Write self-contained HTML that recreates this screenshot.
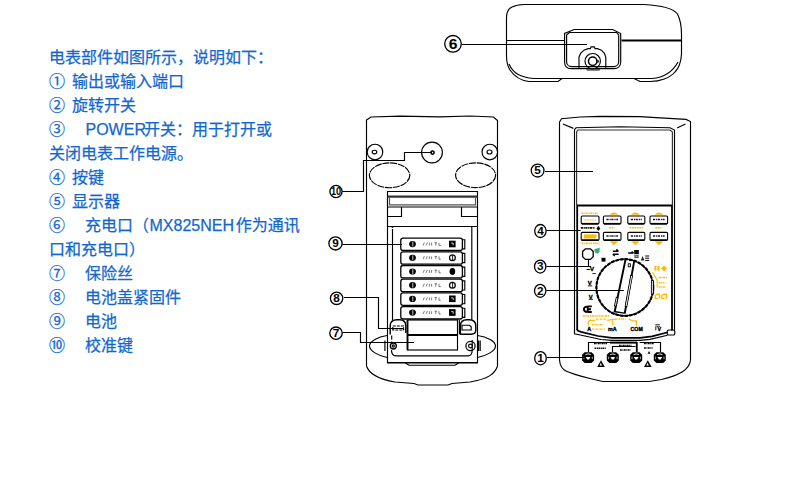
<!DOCTYPE html>
<html lang="zh-CN">
<head>
<meta charset="utf-8">
<title>电表部件说明</title>
<style>
html,body{margin:0;padding:0;background:#fff}
body{width:790px;height:496px;position:relative;overflow:hidden;font-family:"Liberation Sans",sans-serif}
svg{position:absolute;left:0;top:0;display:block}
.txt p{position:absolute;left:49px;margin:0;font-size:16px;line-height:24px;height:24px;white-space:pre;color:transparent;overflow:hidden;width:260px}
</style>
</head>
<body>
<!-- description text -->
<svg id="textlayer" width="790" height="496" viewBox="0 0 790 496" aria-hidden="true"><g fill="#1267cf" stroke="#1267cf" stroke-width="0.25" font-size="16" font-family="'Liberation Sans','Noto Sans CJK SC',sans-serif">
<text y="63"><tspan x="49">电表部件如图所示，说明如下：</tspan></text>
<text y="87"><tspan x="49">①</tspan><tspan x="72">输出或输入端口</tspan></text>
<text y="111"><tspan x="49">②</tspan><tspan x="72">旋转开关</tspan></text>
<text y="135"><tspan x="49">③</tspan><tspan x="85.5">POWER</tspan><tspan x="144.08">开关：用于打开或</tspan></text>
<text y="159"><tspan x="49">关闭电表工作电源。</tspan></text>
<text y="183"><tspan x="49">④</tspan><tspan x="72">按键</tspan></text>
<text y="207"><tspan x="49">⑤</tspan><tspan x="72">显示器</tspan></text>
<text y="231"><tspan x="49">⑥</tspan><tspan x="85">充电口（</tspan><tspan x="149.5">MX825NEH</tspan><tspan x="235.68">作为通讯</tspan></text>
<text y="255"><tspan x="49">口和充电口）</tspan></text>
<text y="279"><tspan x="49">⑦</tspan><tspan x="85">保险丝</tspan></text>
<text y="303"><tspan x="49">⑧</tspan><tspan x="85">电池盖紧固件</tspan></text>
<text y="327"><tspan x="49">⑨</tspan><tspan x="85">电池</tspan></text>
<text y="351"><tspan x="49">⑩</tspan><tspan x="85">校准键</tspan></text>
</g></svg>
<div class="txt">
<p style="top:44px">电表部件如图所示，说明如下：</p>
<p style="top:68px">① 输出或输入端口</p>
<p style="top:92px">② 旋转开关</p>
<p style="top:116px">③    POWER开关：用于打开或</p>
<p style="top:140px">关闭电表工作电源。</p>
<p style="top:164px">④ 按键</p>
<p style="top:188px">⑤ 显示器</p>
<p style="top:212px">⑥    充电口（MX825NEH作为通讯</p>
<p style="top:236px">口和充电口）</p>
<p style="top:260px">⑦    保险丝</p>
<p style="top:284px">⑧    电池盖紧固件</p>
<p style="top:308px">⑨    电池</p>
<p style="top:332px">⑩    校准键</p>
</div>
<!-- multimeter diagram -->
<svg id="diagram" width="790" height="496" viewBox="0 0 790 496" fill="none" stroke="#000" stroke-width="1.15">
<g id="topview">
<path d="M544,4.5 H644 C662,5.5 673,8 677.5,14 C680.5,20 681.5,28 681.5,34 V54 C681,62 679,68 675,72 C670,78 660,81.5 650,81.5 H640 L634,78.5 H562 L558,81.5 H529 C520,80.5 514,76 510,70 C507.5,66 506.5,62 506.5,56 V18 C506.5,12 508.5,8.6 512,7 C515,5.6 518,4.8 524,4.5 Z"/>
<path d="M509,64 C513,73 520,77.5 534,78.5 H562"/>
<path d="M634,78.5 H652 C664,77.5 672,73 678,62"/>
<path d="M506.5,40.5 H565"/>
<path d="M621.5,40.5 H681.5" stroke-width="2"/>
<path d="M574.2,29.5 H612.7 L620.7,33.6 V62 C620.7,66 618,68.6 614,68.6 H571 C567,68.6 564.6,66 564.6,62 V33.4 Z"/>
<path d="M569.4,32.5 H616.6 L618.7,35 V61.5 C618.7,64.5 616.5,66.6 613.5,66.6 H571.8 C568.8,66.6 566.6,64.5 566.6,61.5 V35 Z"/>
<path d="M579,68 V57 L580.6,53.4 L584,50.2 L588,48.6 H590.4 L591,46.9 H594.4 L595,48.6 H597.4 L601.4,50.2 L604.4,53.4 L605.8,57 V68"/>
<circle cx="592.7" cy="61.2" r="7.7"/>
<circle cx="592.7" cy="61.2" r="4.2" stroke-width="1.5"/>
<path d="M596.8,60.6 h1.6 v1.6 h-1.6" stroke-width=".9"/>
<path d="M586.4,68.8 H600" stroke-width="1.6"/>
<path d="M586.8,70.3 H599.6" stroke="#777"/>
<path d="M461.5,44.5 H587"/>
<ellipse cx="453" cy="43.8" rx="8.3" ry="8.3" fill="#fff" stroke-width="1.3"/>
<text transform="translate(453 48.84) scale(1.12 1)" font-family="Liberation Sans,sans-serif" font-weight="bold" font-size="14" text-anchor="middle" fill="#000" stroke="none">6</text>
</g>
<g id="backview">
<path d="M366.5,120 L371,117 L400,116.2 L440,116.8 L470,116 L493.5,117 L497.5,120.5 V366 C495,374 488,379 470,382 L452,383.5 L448,385 H418 L414,383.5 L395,382 C378,379 369,374 366.5,366 Z"/>
<circle cx="375" cy="152" r="7.8"/>
<ellipse cx="374.5" cy="152" rx="2.3" ry="1.8"/>
<circle cx="489.8" cy="152" r="7.8"/>
<ellipse cx="489.5" cy="152" rx="2.5" ry="2"/>
<circle cx="432" cy="152.5" r="10.4"/>
<circle cx="432.5" cy="152.6" r="1.6" stroke-width="1.6"/>
<ellipse cx="389.6" cy="175.3" rx="20.2" ry="12.4" stroke-dasharray="7 .8"/>
<ellipse cx="475.6" cy="175.2" rx="20" ry="12.4" stroke-dasharray="7 .8"/>
<path d="M342,191.5 H363.5 V160.5 H404.5 V152.5 H432"/>
<ellipse cx="336" cy="191.5" rx="6.1" ry="6.1" fill="#fff" stroke-width="1.3"/>
<text transform="translate(336 195.10) scale(0.92 1)" font-family="Liberation Sans,sans-serif" font-weight="bold" font-size="10" text-anchor="middle" fill="#000" stroke="none">10</text>
<path d="M387.5,362.5 V191.5 H477.5 V362.5 Z"/><path d="M387,362.8 H478" stroke-width="1.6"/>
<path d="M387.5,196.7 H477.5" stroke="#333" stroke-width="2.2"/>
<path d="M389.5,197.6 V204.8 H475.5 V197.6" stroke="#555"/>
<path d="M387.5,207 H477.5"/>
<path d="M387.5,216.5 H401.5 V207"/>
<path d="M477.5,216.5 H461.5 V207"/>
<path d="M387.5,226.5 H477.5"/>
<path d="M392.5,229 V320"/><path d="M391.6,227.2 h1.8" stroke-width="1.2"/>
<path d="M471.8,226.5 V320"/>
<rect x="400.8" y="238.1" width="61.6" height="12.4" rx="2.2" fill="#fff" stroke-width="1.3"/>
<path d="M462.6,239.7 h2.2 v9.2 h-2.2"/>
<ellipse cx="412.5" cy="244.1" rx="3.4" ry="3.1" fill="#000" stroke="none"/>
<path d="M412.8,241.7 v4.8" stroke="#fff" stroke-width=".8"/>
<rect x="449.6" y="241.29999999999998" width="5.4" height="5.4" fill="#000" stroke-width="1.2"/>
<path d="M451.2,243.1 h2 v2.2" stroke="#fff" stroke-width=".8"/>
<path d="M423,245.5 l1.4,-3 M426,245.5 l1.4,-3 M429.4,242.7 v2.8 M431.6,242.7 v2.8 M434.6,242.7 h2.4 M435.8,242.7 v2.8 M439,242.7 v2.8 h1.8" stroke-width="0.7" stroke="#444"/>
<rect x="400.8" y="251.8" width="61.6" height="12.4" rx="2.2" fill="#fff" stroke-width="1.3"/>
<path d="M462.6,253.4 h2.2 v9.2 h-2.2"/>
<ellipse cx="412.5" cy="257.8" rx="3.4" ry="3.1" fill="#000" stroke="none"/>
<path d="M412.8,255.4 v4.8" stroke="#fff" stroke-width=".8"/>
<circle cx="452.4" cy="257.8" r="2.9" fill="#fff" stroke-width="1.2"/>
<path d="M452.6,255.20000000000002 v5.2" stroke-width=".9"/>
<path d="M423,259.2 l1.4,-3 M426,259.2 l1.4,-3 M429.4,256.40000000000003 v2.8 M431.6,256.40000000000003 v2.8 M434.6,256.40000000000003 h2.4 M435.8,256.40000000000003 v2.8 M439,256.40000000000003 v2.8 h1.8" stroke-width="0.7" stroke="#444"/>
<rect x="400.8" y="265.5" width="61.6" height="12.4" rx="2.2" fill="#fff" stroke-width="1.3"/>
<path d="M462.6,267.1 h2.2 v9.2 h-2.2"/>
<ellipse cx="412.5" cy="271.5" rx="3.4" ry="3.1" fill="#000" stroke="none"/>
<path d="M412.8,269.1 v4.8" stroke="#fff" stroke-width=".8"/>
<ellipse cx="452.4" cy="271.5" rx="2.8" ry="3.4" fill="#000" stroke="none"/>
<path d="M423,272.9 l1.4,-3 M426,272.9 l1.4,-3 M429.4,270.1 v2.8 M431.6,270.1 v2.8 M434.6,270.1 h2.4 M435.8,270.1 v2.8 M439,270.1 v2.8 h1.8" stroke-width="0.7" stroke="#444"/>
<rect x="400.8" y="279.2" width="61.6" height="12.4" rx="2.2" fill="#fff" stroke-width="1.3"/>
<path d="M462.6,280.8 h2.2 v9.2 h-2.2"/>
<ellipse cx="412.5" cy="285.2" rx="3.4" ry="3.1" fill="#000" stroke="none"/>
<path d="M412.8,282.8 v4.8" stroke="#fff" stroke-width=".8"/>
<circle cx="452.4" cy="285.2" r="2.9" fill="#fff" stroke-width="1.2"/>
<path d="M452.6,282.59999999999997 v5.2" stroke-width=".9"/>
<path d="M423,286.59999999999997 l1.4,-3 M426,286.59999999999997 l1.4,-3 M429.4,283.8 v2.8 M431.6,283.8 v2.8 M434.6,283.8 h2.4 M435.8,283.8 v2.8 M439,283.8 v2.8 h1.8" stroke-width="0.7" stroke="#444"/>
<rect x="400.8" y="292.9" width="61.6" height="12.4" rx="2.2" fill="#fff" stroke-width="1.3"/>
<path d="M462.6,294.5 h2.2 v9.2 h-2.2"/>
<ellipse cx="412.5" cy="298.9" rx="3.4" ry="3.1" fill="#000" stroke="none"/>
<path d="M412.8,296.5 v4.8" stroke="#fff" stroke-width=".8"/>
<rect x="449.6" y="296.09999999999997" width="5.4" height="5.4" fill="#000" stroke-width="1.2"/>
<path d="M451.2,297.9 h2 v2.2" stroke="#fff" stroke-width=".8"/>
<path d="M423,300.29999999999995 l1.4,-3 M426,300.29999999999995 l1.4,-3 M429.4,297.5 v2.8 M431.6,297.5 v2.8 M434.6,297.5 h2.4 M435.8,297.5 v2.8 M439,297.5 v2.8 h1.8" stroke-width="0.7" stroke="#444"/>
<rect x="400.8" y="306.6" width="61.6" height="12.4" rx="2.2" fill="#fff" stroke-width="1.3"/>
<path d="M462.6,308.20000000000005 h2.2 v9.2 h-2.2"/>
<ellipse cx="412.5" cy="312.6" rx="3.4" ry="3.1" fill="#000" stroke="none"/>
<path d="M412.8,310.20000000000005 v4.8" stroke="#fff" stroke-width=".8"/>
<rect x="449.6" y="309.8" width="5.4" height="5.4" fill="#000" stroke-width="1.2"/>
<path d="M451.2,311.6 h2 v2.2" stroke="#fff" stroke-width=".8"/>
<path d="M423,314.0 l1.4,-3 M426,314.0 l1.4,-3 M429.4,311.20000000000005 v2.8 M431.6,311.20000000000005 v2.8 M434.6,311.20000000000005 h2.4 M435.8,311.20000000000005 v2.8 M439,311.20000000000005 v2.8 h1.8" stroke-width="0.7" stroke="#444"/>
<path d="M341.6,244.5 H402"/>
<ellipse cx="335.5" cy="243.4" rx="6.6" ry="6.6" fill="#fff" stroke-width="1.3"/>
<text transform="translate(335.5 247.18) scale(1.12 1)" font-family="Liberation Sans,sans-serif" font-weight="bold" font-size="10.5" text-anchor="middle" fill="#000" stroke="none">9</text>
<rect x="407.5" y="320" width="50" height="30" fill="#fff"/>
<path d="M407.5,335 H457.5" stroke-width="1.8"/>
<path d="M459.4,320 V334"/>
<path d="M407.5,320 V350" stroke-width="1.8"/>
<path d="M390.2,334.4 V326 C390.2,322 393,319.8 397,319.8 H399.6 C403.6,319.8 405.8,322 405.8,326 V333" stroke-width="1.4"/>
<path d="M392.8,330 V326 H403.6 V330 Z" stroke-dasharray="3 1"/>
<path d="M460.4,334.2 V326 C460.4,322 463,319.8 467,319.8 H469 C473,319.8 475.8,322 475.8,326 V330 C475.8,333 474,334.2 471,334.2 Z" stroke-width="1.4"/>
<path d="M462,330 V325.2 H469.4 L471.2,326.8 V330 Z"/>
<path d="M344,297.5 H378.5 V328.5 H403"/>
<ellipse cx="336.6" cy="298.3" rx="6.2" ry="6.2" fill="#fff" stroke-width="1.3"/>
<text transform="translate(336.6 302.08) scale(1.12 1)" font-family="Liberation Sans,sans-serif" font-weight="bold" font-size="10.5" text-anchor="middle" fill="#000" stroke="none">8</text>
<path d="M341.8,332.5 H360.5 V342.5 H414"/>
<ellipse cx="336" cy="333.2" rx="6.2" ry="6.2" fill="#fff" stroke-width="1.3"/>
<text transform="translate(336 336.98) scale(1.12 1)" font-family="Liberation Sans,sans-serif" font-weight="bold" font-size="10.5" text-anchor="middle" fill="#000" stroke="none">7</text>
<circle cx="393.3" cy="346" r="3" stroke-width="1.3"/>
<circle cx="393.3" cy="346" r="1.1"/>
<circle cx="470.5" cy="346" r="4.6" stroke-width="1.2"/>
<circle cx="470.5" cy="346" r="1.9"/>
<path d="M391.7,335.5 V343" stroke-dasharray="4 2"/>
<path d="M391.5,350 C391.5,354.5 393,355.8 396,355.8 H468 C471,355.8 472.2,354.5 472.2,350 V340"/>
<path d="M387,335.5 C378,337 369.5,341 369.5,346 C369.5,351 378,355.5 387,357.5"/>
<path d="M477.5,335.5 C487,337 495.5,341 495.5,346 C495.5,351 487,355.5 477.5,357.5"/>
<path d="M384.9,340.4 V351 M478.6,340.4 V351 M480.2,340.4 V351"/>
<path d="M405,362.8 L409,365.2 H455 L459,362.8"/>
</g>
<g id="frontview">
<path d="M559.5,122 L561.5,118.8 L580,117 L600,116.4 L640,116.6 L652,117.4 L686,119.4 L690.5,121.5 V360 C690,365 687,369 682,372 C677,375 670,377.5 661.4,379.5 L649.2,381.5 H602.7 L590,378.5 C580,376 572,374 566,371 C562,369 560,366 559.5,360 Z"/>
<path d="M563,124 L573.4,128.4 M685.5,124 L677,128"/>
<path d="M574.5,329 V129.6 L576,127.8 L620,126.8 L670,127.8 L674.5,130 V330.4" />
<path d="M576.6,205 V131.6 L578,130 H670 L672.4,132 V205" stroke="#333"/>
<path d="M577.2,205 V330 M672,205 V330.4" stroke-width="1.8"/>
<path d="M577,205.5 H672" stroke-width="1.8"/>
<path d="M577.2,329 L577.6,330.6 L581,331.9 L598,336 L612,337.8 H640 L652,336.4 L668,332.2" stroke-width="1.7"/>
<path d="M574.5,329 V333.8 L580.3,335 L601,339.5 L612,340.3 H640 L650,339.4 L667.4,335.2"/>
<rect x="667.2" y="330" width="7.6" height="5" rx="1.6"/>
<path d="M545,171.5 H593"/>
<ellipse cx="537.6" cy="170.6" rx="6.4" ry="6.4" fill="#fff" stroke-width="1.3"/>
<text transform="translate(537.6 174.38) scale(1.12 1)" font-family="Liberation Sans,sans-serif" font-weight="bold" font-size="10.5" text-anchor="middle" fill="#000" stroke="none">5</text>
<rect x="581.2" y="216" width="17.8" height="8" rx="1.2" stroke-width="1.1" fill="#fff"/>
<path d="M581.8000000000001,223.7 h16.6" stroke-width="1.6"/>
<path d="M584.2,220 h11.8" stroke="#ffba00" stroke-width="1.2" stroke-dasharray="2 .7"/>
<rect x="581.2" y="232.4" width="17.8" height="8" rx="1.2" stroke-width="1.1" fill="#fff"/>
<path d="M581.8000000000001,240.1 h16.6" stroke-width="1.6"/>
<rect x="583.8000000000001" y="234.4" width="12.600000000000001" height="4" fill="#ffba00" stroke="none"/>
<rect x="603.4" y="216" width="17.6" height="8" rx="1.2" stroke-width="1.1" fill="#fff"/>
<path d="M604.0,223.7 h16.400000000000002" stroke-width="1.6"/>
<path d="M606.4,219.6 h11.600000000000001" stroke-width="1.5" stroke="#1a1a2a" stroke-dasharray="2.2 .9 1.2 .6"/>
<rect x="603.4" y="232.4" width="17.6" height="8" rx="1.2" stroke-width="1.1" fill="#fff"/>
<path d="M604.0,240.1 h16.400000000000002" stroke-width="1.6"/>
<path d="M606.4,236.0 h11.600000000000001" stroke-width="1.5" stroke="#1a1a2a" stroke-dasharray="2.2 .9 1.2 .6"/>
<path d="M609.5,214.8 Q613.9,210.4 618.3,214.8 Z" fill="#ffba00" stroke="none"/>
<path d="M609.6,241.3 h8.6 l-4.3,4 Z" fill="#ffba00" stroke="none"/>
<rect x="627.8" y="216" width="17" height="8" rx="1.2" stroke-width="1.1" fill="#fff"/>
<path d="M628.4,223.7 h15.8" stroke-width="1.6"/>
<path d="M630.8,219.6 h11" stroke-width="1.5" stroke="#1a1a2a" stroke-dasharray="2.2 .9 1.2 .6"/>
<rect x="627.8" y="232.4" width="17" height="8" rx="1.2" stroke-width="1.1" fill="#fff"/>
<path d="M628.4,240.1 h15.8" stroke-width="1.6"/>
<path d="M630.8,236.0 h11" stroke-width="1.5" stroke="#1a1a2a" stroke-dasharray="2.2 .9 1.2 .6"/>
<path d="M631.0,214.8 Q635.4,210.4 639.8,214.8 Z" fill="#ffba00" stroke="none"/>
<path d="M631.1,241.3 h8.6 l-4.3,4 Z" fill="#ffba00" stroke="none"/>
<rect x="650" y="216" width="17.6" height="8" rx="1.2" stroke-width="1.1" fill="#fff"/>
<path d="M650.6,223.7 h16.400000000000002" stroke-width="1.6"/>
<path d="M653,219.6 h11.600000000000001" stroke-width="1.5" stroke="#1a1a2a" stroke-dasharray="2.2 .9 1.2 .6"/>
<rect x="650" y="232.4" width="17.6" height="8" rx="1.2" stroke-width="1.1" fill="#fff"/>
<path d="M650.6,240.1 h16.400000000000002" stroke-width="1.6"/>
<path d="M653,236.0 h11.600000000000001" stroke-width="1.5" stroke="#1a1a2a" stroke-dasharray="2.2 .9 1.2 .6"/>
<path d="M654.6,214.8 Q659,210.4 663.4,214.8 Z" fill="#ffba00" stroke="none"/>
<path d="M654.7,241.3 h8.6 l-4.3,4 Z" fill="#ffba00" stroke="none"/>
<path d="M581.5,213.2 H598" stroke="#ffba00" stroke-width="1.6" stroke-dasharray="2 .8 1 .6"/>
<path d="M581.5,243.4 H599.6" stroke="#ffba00" stroke-width="1.6" stroke-dasharray="2 .8 1 .6"/>
<path d="M580.8,227.9 H594.8" stroke-width="1.7" stroke="#111" stroke-dasharray="2.2 .6 1.2 .5"/>
<path d="M598.4,225.8 l1.9,2.6 l-1.9,2.6 l-1.9,-2.6 Z" fill="#000" stroke="none"/>
<path d="M609,227.8 H614.4 M629.4,227.8 H643 M655.4,227.8 H661.4" stroke="#ffba00" stroke-width="1.5" stroke-dasharray="1.8 .7"/>
<path d="M546.4,230.5 H580.6"/>
<ellipse cx="540.4" cy="231" rx="5.7" ry="6.5" fill="#fff" stroke-width="1.3"/>
<text transform="translate(540.4 234.78) scale(1.12 1)" font-family="Liberation Sans,sans-serif" font-weight="bold" font-size="10.5" text-anchor="middle" fill="#000" stroke="none">4</text>
<path d="M585.4,248.8 H590.4 L593.2,251.4 V256.8 L590.4,259.4 H585.4 L582.6,256.8 V251.4 Z" stroke-width="1.3"/>
<path d="M594,249.6 L599.8,247.4 L599.4,252 L597.2,253.8 L595.2,252.6 Z" fill="#33b07a" stroke="none"/>
<path d="M588.5,259.4 V266.5"/>
<path d="M546.4,266.5 H591"/>
<ellipse cx="540.2" cy="266.6" rx="5.7" ry="6.5" fill="#fff" stroke-width="1.3"/>
<text transform="translate(540.2 270.38) scale(1.12 1)" font-family="Liberation Sans,sans-serif" font-weight="bold" font-size="10.5" text-anchor="middle" fill="#000" stroke="none">3</text>
<circle cx="624.8" cy="287.5" r="28.4" stroke-width="1.3"/>
<circle cx="624.8" cy="287.5" r="28.4" stroke-width="2.1" stroke-dasharray="3.4 1.2"/>
<path d="M652.2,281 V293.6" stroke="#fff" stroke-width="1.2"/><path d="M653.6,280.4 V294.2 M651.4,281 V293.6" stroke-width=".9"/>
<path d="M625.5,259.6 L614.6,312" stroke-width="1.9"/>
<path d="M634.3,260.6 L624.7,313.6" stroke-width="1.9"/>
<path d="M631.7,275 L625.9,307" stroke-width="2.6"/><path d="M631.6,276 L626.1,306" stroke="#eee" stroke-width="1"/>
<path d="M617.2,297 L615.2,306.6" stroke-width="2.6"/><path d="M617,298 L615.4,305.6" stroke="#ddd" stroke-width="1"/>
<path d="M613.8,311.5 L624.4,313.2" stroke-width="1.3"/>
<path d="M629,260.5 H636"/>
<rect x="628.2" y="263.8" width="2.2" height="3" stroke-width="0.9"/>
<path d="M546.4,290.5 H623.8"/>
<ellipse cx="540.2" cy="290.8" rx="5.7" ry="6.5" fill="#fff" stroke-width="1.3"/>
<text transform="translate(540.2 294.58) scale(1.12 1)" font-family="Liberation Sans,sans-serif" font-weight="bold" font-size="10.5" text-anchor="middle" fill="#000" stroke="none">2</text>
<rect x="601.5" y="257.8" width="4" height="3.8" fill="#000" stroke="none"/>
<path d="M612.8,251.2 h5.6 M616.4,249.4 l2,1.8 M618.6,254.2 h-5.6 M614.8,256 l-2,-1.8" stroke-width="1.5"/>
<path d="M628.2,253 h5.4 M631.6,251.4 l2,1.6" stroke-width="1.3"/>
<rect x="634.2" y="250" width="4.6" height="4.2" fill="#000" stroke="none"/>
<rect x="634.4" y="254.9" width="4.2" height="3.2" fill="#555" stroke="none"/>
<path d="M635.6,256.2 h1.8" stroke="#fff" stroke-width=".8"/>
<path d="M640.8,260.4 l1.8,-4.4 l1.8,4.4 Z" fill="#223" stroke="none"/>
<path d="M645.2,256 h4 M645.2,258.2 h4 M645.2,260.4 h4" stroke-width="1"/>
<text x="586.6" y="270.6" font-size="6" font-family="Liberation Sans,sans-serif" font-weight="bold" fill="#000" stroke="#000" stroke-width=".35">~V</text>
<path d="M592.4,273.6 h3.4" stroke-width="0.9"/>
<text x="587.8" y="285.2" font-size="6" font-family="Liberation Sans,sans-serif" font-weight="bold" fill="#000" stroke="#000" stroke-width=".35">V</text>
<path d="M587.8,285.9 h4.4" stroke-width="0.9"/>
<text x="588.8" y="298.6" font-size="5.8" font-family="Liberation Sans,sans-serif" font-weight="bold" fill="#000" stroke="#000" stroke-width=".35">V</text>
<path d="M588.8,299.3 h4.2" stroke-width="0.9"/>
<path d="M587.4,306.6 C583.2,306.2 582.4,311.6 587.4,312 M587.6,306.4 H591.8 M587.6,309.2 H591 M587.6,312 H591.8 M587.8,306.4 V312" stroke-width="1.9"/>
<rect x="654.4" y="266" width="2" height="4.6" fill="#ffba00" stroke="none"/><rect x="657.4" y="266" width="2" height="4.6" fill="#ffba00" stroke="none"/>
<path d="M664,265.4 l3,3 l-3,3 l-3,-3 Z" fill="#ffba00" stroke="none"/>
<path d="M652.4,272.2 L657.2,280 V287.4" stroke="#ffba00" stroke-width="1.1"/>
<path d="M658.6,277.4 H667.6 M658.6,282.8 H664.4 M658.6,287 H664.8" stroke="#ffba00" stroke-width="1.5" stroke-dasharray="2 .7 1.2 .6"/>
<path d="M655.2,298.8 v-3 l2,-1.6 h2.4 v4.6 M661.8,298.8 v-3 l2,-1.6 h2.6 v4.6 M655,298.6 h3 M661.6,298.6 h3" stroke="#ffba00" stroke-width="1.4"/>
<path d="M582.8,316 H609" stroke="#ffba00" stroke-width="1.5" stroke-dasharray="2 .7 1.2 .6"/>
<path d="M588.2,326 V322 L589.8,320.4 H595 M607,320.4 L617.6,318.9 M612.7,320.4 V325.4 M628.8,318.8 L632.3,320.8 H636.4 V325.8" stroke="#ffba00" stroke-width="1.2"/>
<path d="M596,319.2 H606 M618.4,319 H625.4 M592,324.6 H603 M592,329.2 H605" stroke="#ffba00" stroke-width="1.3" stroke-dasharray="1.8 .7 1 .5"/>
<text x="587.2" y="331" font-size="5.4" font-family="Liberation Sans,sans-serif" font-weight="bold" fill="#000" stroke="#000" stroke-width=".35">A</text>
<text x="608" y="331" font-size="5.4" font-family="Liberation Sans,sans-serif" font-weight="bold" fill="#000" stroke="#000" stroke-width=".35">mA</text>
<text x="630.6" y="331" font-size="5.2" font-family="Liberation Sans,sans-serif" font-weight="bold" fill="#000" stroke="#000" stroke-width=".35">COM</text>
<text x="657.4" y="330.8" font-size="5.4" font-family="Liberation Sans,sans-serif" font-weight="bold" fill="#000" stroke="#000" stroke-width=".35">V</text>
<path d="M655.4,324.8 h4.4 M655.4,326.4 h1.2 m.6,0 h1 m.6,0 h1 M655.8,327 v3.4" stroke-width="0.9"/>
<path d="M584.7,352.2 h6.8 l2.6,2.6 v5.6 l-2.6,2.6 h-6.8 l-2.6,-2.6 v-5.6 Z" fill="#000" stroke="none"/>
<path d="M585.5,354.6 q2.6,-1.4 5.2,0" stroke="#fff" stroke-width=".9"/>
<path d="M585.8000000000001,357 h4.6 l-1.3,2.4 h-2 Z" fill="#fff" stroke="none"/>
<path d="M583.9,356.6 v2.6 M592.3000000000001,356.6 v2.6" stroke="#ccc" stroke-width=".8"/>
<path d="M609.4,352.2 h6.8 l2.6,2.6 v5.6 l-2.6,2.6 h-6.8 l-2.6,-2.6 v-5.6 Z" fill="#000" stroke="none"/>
<path d="M610.1999999999999,354.6 q2.6,-1.4 5.2,0" stroke="#fff" stroke-width=".9"/>
<path d="M610.5,357 h4.6 l-1.3,2.4 h-2 Z" fill="#fff" stroke="none"/>
<path d="M608.5999999999999,356.6 v2.6 M617.0,356.6 v2.6" stroke="#ccc" stroke-width=".8"/>
<path d="M632.8000000000001,352.2 h6.8 l2.6,2.6 v5.6 l-2.6,2.6 h-6.8 l-2.6,-2.6 v-5.6 Z" fill="#000" stroke="none"/>
<path d="M633.6,354.6 q2.6,-1.4 5.2,0" stroke="#fff" stroke-width=".9"/>
<path d="M633.9000000000001,357 h4.6 l-1.3,2.4 h-2 Z" fill="#fff" stroke="none"/>
<path d="M632.0,356.6 v2.6 M640.4000000000001,356.6 v2.6" stroke="#ccc" stroke-width=".8"/>
<path d="M656.4,352.2 h6.8 l2.6,2.6 v5.6 l-2.6,2.6 h-6.8 l-2.6,-2.6 v-5.6 Z" fill="#000" stroke="none"/>
<path d="M657.1999999999999,354.6 q2.6,-1.4 5.2,0" stroke="#fff" stroke-width=".9"/>
<path d="M657.5,357 h4.6 l-1.3,2.4 h-2 Z" fill="#fff" stroke="none"/>
<path d="M655.5999999999999,356.6 v2.6 M664.0,356.6 v2.6" stroke="#ccc" stroke-width=".8"/>
<path d="M588.5,352 V342.5 H610"/>
<path d="M610,342.6 H637" stroke-width="2"/>
<path d="M636.8,342 V352" stroke-width="1.8"/>
<path d="M612.5,352 V346.5 H635.6"/>
<path d="M639.6,342.5 H660.5 V352"/>
<path d="M594,343.6 H607 M594.6,348.2 H606 M619,345.6 H631.4 M620,350 H630.6 M644,343.6 H654 M644,348 H652.6" stroke-width="1.5" stroke-dasharray="1.8 .6 1 .5"/>
<path d="M597.2,367 L601,360.2 L604.8,367 Z" fill="#000" stroke="none"/><path d="M599.6,365.6 L600.8,362.8 L602,365.6 Z" fill="#fff" stroke="none"/>
<path d="M644,367 L647.8,360.2 L651.6,367 Z" fill="#000" stroke="none"/><path d="M646.4,365.6 L647.6,362.8 L648.8,365.6 Z" fill="#fff" stroke="none"/>
<path d="M647.6,353.8 L649,351 L650.4,353.8 Z" fill="#000" stroke="none"/>
<path d="M547,357.5 H585"/>
<ellipse cx="540.5" cy="358.2" rx="5.8" ry="6.6" fill="#fff" stroke-width="1.3"/>
<text transform="translate(540.5 361.98) scale(1.12 1)" font-family="Liberation Sans,sans-serif" font-weight="bold" font-size="10.5" text-anchor="middle" fill="#000" stroke="none">1</text>
<path d="M538.1,361.48 h5.2" stroke-width="1.1"/>
</g>
</svg>
</body>
</html>
